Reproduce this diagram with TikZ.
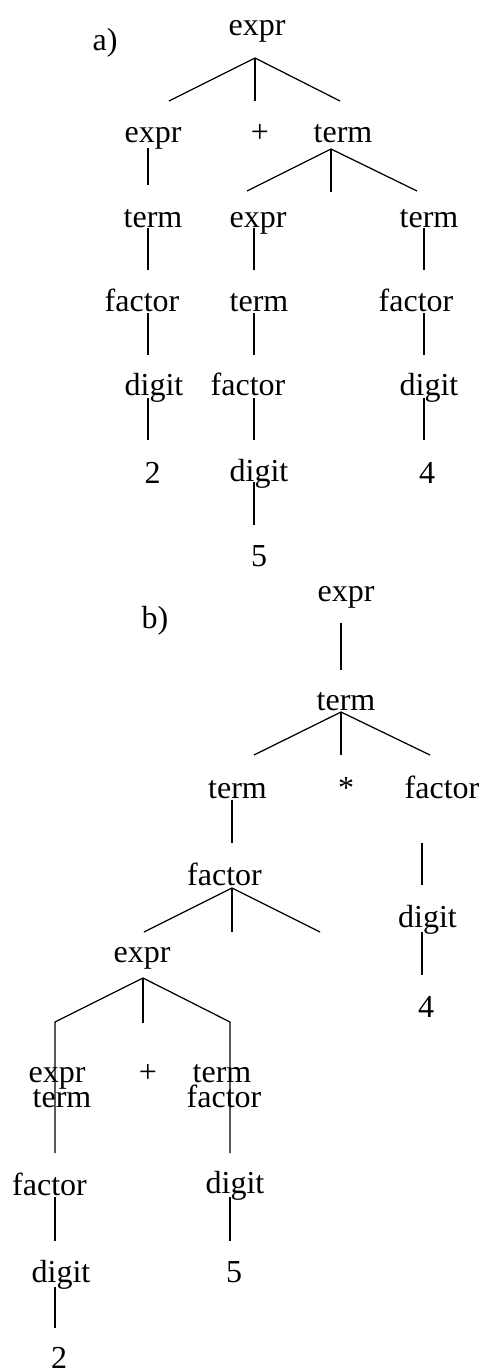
\documentclass[tikz,border=0pt]{standalone}
\usepackage{fontspec}
\setmainfont{Liberation Serif}
\begin{document}
\begin{tikzpicture}[x=1pt,y=-1pt,
  lbl/.style={anchor=base, inner sep=0pt, font=\fontsize{32}{38}\selectfont},
  edge/.style={line width=1.25pt, line cap=butt}]
\useasboundingbox (0,0) rectangle (485,1371);
% ---------- a) ----------
\node[lbl] (alab) at (105,50) {a)};
\node[lbl] (A0) at (257,35) {expr};
\node[lbl] (A1) at (153,142) {expr};
\node[lbl] (Aplus) at (260,142) {+};
\node[lbl] (A2) at (343,142) {term};
\node[lbl] (A3) at (153,227) {term};
\node[lbl] (A4) at (258,227) {expr};
\node[lbl] (A5) at (429,227) {term};
\node[lbl] (A6) at (142,311) {factor};
\node[lbl] (A7) at (259,311) {term};
\node[lbl] (A8) at (416,311) {factor};
\node[lbl] (A9) at (154,395) {digit};
\node[lbl] (A10) at (248,395) {factor};
\node[lbl] (A11) at (429,395) {digit};
\node[lbl] (A12) at (152.5,483) {2};
\node[lbl] (A13) at (259,481) {digit};
\node[lbl] (A14) at (427,483) {4};
\node[lbl] (A15) at (259,566) {5};
% connector points a)
\coordinate (a0j) at (255,58);
\coordinate (a0l) at (169,101);
\coordinate (a0m) at (255,101);
\coordinate (a0r) at (340,101);
\coordinate (a1s) at (148,148);  \coordinate (a3n) at (148,185);
\coordinate (a2j) at (331,149);
\coordinate (a2l) at (247,191);
\coordinate (a2m) at (331,192);
\coordinate (a2r) at (417,191);
\coordinate (a3s) at (148,228);  \coordinate (a6n) at (148,270);
\coordinate (a4s) at (254,228);  \coordinate (a7n) at (254,270);
\coordinate (a5s) at (424,228);  \coordinate (a8n) at (424,270);
\coordinate (a6s) at (148,313);  \coordinate (a9n) at (148,355);
\coordinate (a7s) at (254,313);  \coordinate (a10n) at (254,355);
\coordinate (a8s) at (424,313);  \coordinate (a11n) at (424,355);
\coordinate (a9s) at (148,398);  \coordinate (a12n) at (148,440);
\coordinate (a10s) at (254,398); \coordinate (a13n) at (254,440);
\coordinate (a11s) at (424,398); \coordinate (a14n) at (424,440);
\coordinate (a13s) at (254,482); \coordinate (a15n) at (254,525);
\draw[edge] (a0l) -- (a0j) -- (a0r);
\draw[edge] (a0j) -- (a0m);
\draw[edge] (a1s) -- (a3n);
\draw[edge] (a2l) -- (a2j) -- (a2r);
\draw[edge] (a2j) -- (a2m);
\draw[edge] (a3s) -- (a6n);
\draw[edge] (a4s) -- (a7n);
\draw[edge] (a5s) -- (a8n);
\draw[edge] (a6s) -- (a9n);
\draw[edge] (a7s) -- (a10n);
\draw[edge] (a8s) -- (a11n);
\draw[edge] (a9s) -- (a12n);
\draw[edge] (a10s) -- (a13n);
\draw[edge] (a11s) -- (a14n);
\draw[edge] (a13s) -- (a15n);
% ---------- b) ----------
\node[lbl] (blab) at (155,628) {b)};
\node[lbl] (B0) at (346,601) {expr};
\node[lbl] (B1) at (346,710) {term};
\node[lbl] (B2) at (237.5,798) {term};
\node[lbl] (Bstar) at (346,798) {*};
\node[lbl] (B3) at (442,798) {factor};
\node[lbl] (B4) at (224.5,885) {factor};
\node[lbl] (B5) at (427.5,927) {digit};
\node[lbl] (B6) at (142,962) {expr};
\node[lbl] (B7) at (426,1017) {4};
\node[lbl] (B8) at (57,1082) {expr};
\node[lbl] (Bplus) at (148,1082) {+};
\node[lbl] (B10) at (222,1082) {term};
\node[lbl] (B9) at (62,1107) {term};
\node[lbl] (B11) at (224,1107) {factor};
\node[lbl] (B12) at (49.5,1195) {factor};
\node[lbl] (B13) at (235,1193) {digit};
\node[lbl] (B14) at (61,1282) {digit};
\node[lbl] (B15) at (234,1282) {5};
\node[lbl] (B16) at (59,1368.5) {2};
% connector points b)
\coordinate (b0s) at (341,623);  \coordinate (b1n) at (341,670);
\coordinate (b1j) at (341,712);
\coordinate (b1l) at (254,755);
\coordinate (b1m) at (341,755);
\coordinate (b1r) at (430,755);
\coordinate (b2s) at (232,800);  \coordinate (b4n) at (232,843);
\coordinate (b3s) at (422,843);  \coordinate (b5n) at (422,885);
\coordinate (b4j) at (232,888);
\coordinate (b4l) at (144,932);
\coordinate (b4m) at (232,932);
\coordinate (b4r) at (320,932);
\coordinate (b5s) at (422,932);  \coordinate (b7n) at (422,975);
\coordinate (b6j) at (143,978);
\coordinate (b6l) at (55,1022);  \coordinate (b12n) at (55,1153);
\coordinate (b6m) at (143,1023);
\coordinate (b6r) at (230,1022); \coordinate (b13n) at (230,1153);
\coordinate (b12s) at (55,1197); \coordinate (b14n) at (55,1241);
\coordinate (b13s) at (230,1197); \coordinate (b15n) at (230,1241);
\coordinate (b14s) at (55,1287); \coordinate (b16n) at (55,1328);
\draw[edge] (b0s) -- (b1n);
\draw[edge] (b1l) -- (b1j) -- (b1r);
\draw[edge] (b1j) -- (b1m);
\draw[edge] (b2s) -- (b4n);
\draw[edge] (b3s) -- (b5n);
\draw[edge] (b4l) -- (b4j) -- (b4r);
\draw[edge] (b4j) -- (b4m);
\draw[edge] (b5s) -- (b7n);
\draw[edge] (b12n) -- (b6l) -- (b6j) -- (b6r) -- (b13n);
\draw[edge] (b6j) -- (b6m);
\draw[edge] (b12s) -- (b14n);
\draw[edge] (b13s) -- (b15n);
\draw[edge] (b14s) -- (b16n);
\end{tikzpicture}
\end{document}
